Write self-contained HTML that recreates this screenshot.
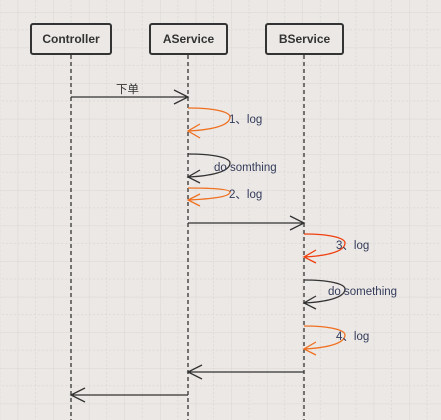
<!DOCTYPE html>
<html><head><meta charset="utf-8"><style>
html,body{margin:0;padding:0;background:#ebe8e5;}
svg{display:block;}
text{font-family:"Liberation Sans","Noto Sans CJK SC",sans-serif;}
</style></head><body>
<svg width="441" height="420" xmlns="http://www.w3.org/2000/svg">
<defs>
<pattern id="g" width="35.6" height="35.6" patternUnits="userSpaceOnUse" x="17.7" y="12">
<path d="M0 0H35.6M0 0V35.6" stroke="#d9d6d3" stroke-width="1" fill="none"/>
<path d="M0 17.8H35.6M17.8 0V35.6" stroke="#dddad7" stroke-width="1" stroke-dasharray="2 2" fill="none"/>
</pattern>
</defs>
<rect width="441" height="420" fill="#ebe8e5"/>
<rect width="441" height="420" fill="url(#g)"/>
<g stroke="#333" stroke-width="1.3" stroke-dasharray="4 3" fill="none">
<line x1="71" y1="55" x2="71" y2="420"/>
<line x1="188" y1="55" x2="188" y2="420"/>
<line x1="304" y1="55" x2="304" y2="420"/>
</g>
<g fill="#ebe8e5" stroke="#333" stroke-width="2">
<rect x="31" y="24" width="80" height="30" rx="2"/>
<rect x="150" y="24" width="77" height="30" rx="2"/>
<rect x="266" y="24" width="77" height="30" rx="2"/>
</g>
<g font-size="12" font-weight="bold" fill="#333" text-anchor="middle">
<text x="71" y="43">Controller</text>
<text x="188.5" y="43">AService</text>
<text x="304.5" y="43">BService</text>
</g>
<g stroke="#333" stroke-width="1.3" fill="none">
<path d="M71 97H188M174 90L188 97L174 104"/>
<path d="M188 223H304M290 216L304 223L290 230"/>
<path d="M304 372H188M202 365L188 372L202 379"/>
<path d="M188 395H71M85 388L71 395L85 402"/>
<path d="M188 154C215 154 230 158 230 163C230 172 210 176 188 177M200 170L188 177L200 183"/>
<path d="M304 280C330 280 345 284 345 289C345 298 325 302 304 303M316 296L304 303L316 309"/>
</g>
<g stroke="#f07020" stroke-width="1.3" fill="none">
<path d="M188 108C215 108 230 112 230 117C230 126 210 130 188 131M200 124L188 131L200 138"/>
<path d="M188 188C210 188 230 189 230 192C230 197 210 199 188 200M200 194L188 200L200 206"/>
<path d="M304 326C330 326 345 330 345 335C345 344 325 348 304 349M316 342L304 349L316 355"/>
</g>
<path d="M304 234C330 234 345 238 345 243C345 252 325 256 304 257M316 250L304 257L316 263" stroke="#f04010" stroke-width="1.3" fill="none"/>
<g font-size="11.5" fill="#333b5a">
<text x="116" y="93" fill="#333">下单</text>
<text x="229" y="123">1、log</text>
<text x="214" y="171">do somthing</text>
<text x="229" y="198">2、log</text>
<text x="336" y="249">3、log</text>
<text x="328" y="295">do something</text>
<text x="336" y="340">4、log</text>
</g>
</svg>
</body></html>
